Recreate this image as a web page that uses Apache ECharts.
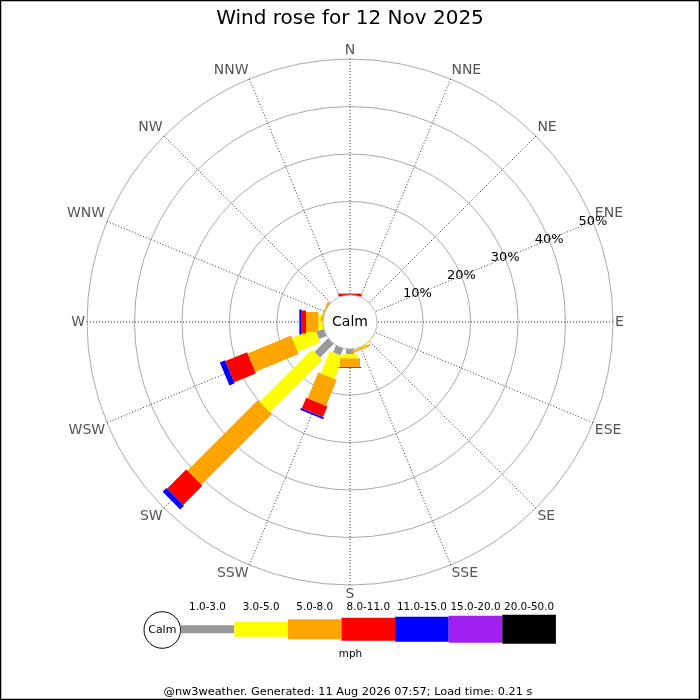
<!DOCTYPE html>
<html>
<head>
<meta charset="utf-8">
<script src="https://cdn.jsdelivr.net/npm/echarts@6/dist/echarts.min.js"></script>
<style>
html,body{margin:0;padding:0;background:#fff;}
#chart{width:700px;height:700px;}
</style>
</head>
<body>
<div id="chart"></div>
<script>
// ---- data ----
const DIRS = ['N','NNE','NE','ENE','E','ESE','SE','SSE','S','SSW','SW','WSW','W','WNW','NW','NNW'];
const SPEED_BINS = ['1.0-3.0','3.0-5.0','5.0-8.0','8.0-11.0','11.0-15.0','15.0-20.0','20.0-50.0'];
const RADIUS_TICKS = [0, 10, 20, 30, 40, 50];
// percentage of time per direction, per speed bin (mph)
const BIN_1_3   = [0,0,0,0,0,0,0,0.3,1.4,1.9,4.4,2.0,0,0,0,0];
const BIN_3_5   = [0,0,0,0,0,0,0.4,0.2,0.9,5.1,15.6,5.2,1.3,0,0,0];
const BIN_5_8   = [0,0,0,0,0,0,0,0.4,1.8,5.9,21.0,9.9,2.6,0.6,0,0];
const BIN_8_11  = [0.6,0,0,0,0,0,0,0,0.2,2.4,5.7,4.9,0.9,0,0,0];
const BIN_11_15 = [0,0,0,0,0,0,0,0,0,0.4,1.1,1.2,0.5,0,0,0];
const BIN_15_20 = [0,0,0,0,0,0,0,0,0,0,0,0,0,0,0,0];
const BIN_20_50 = [0,0,0,0,0,0,0,0,0,0,0,0,0,0,0,0];
const TITLE = 'Wind rose for 12 Nov 2025';
const FOOTER = '@nw3weather. Generated: 11 Aug 2026 07:57; Load time: 0.21 s';

// ---- styles ----
const BIN_COLORS = ['#999999','#ffff00','#ffa500','#ff0000','#0000ff','#a020f0','#000000'];
const BIN_WIDTHS = [8, 15, 20, 23, 25, 27, 29];
const FONT = 'DejaVu Sans';

const BINS = [BIN_1_3, BIN_3_5, BIN_5_8, BIN_8_11, BIN_11_15, BIN_15_20, BIN_20_50];
// angle axis starts at ENE so that the radius labels lie along ENE
const START_OFFSET = 67.5;
function dirToAngle(i){ return ((i*22.5 - START_OFFSET) % 360 + 360) % 360; }

const cum = DIRS.map(() => 0);
const series = BINS.map((vals, b) => {
  const data = [];
  vals.forEach((v, i) => {
    if (v > 0) { data.push([i, cum[i], cum[i] + v]); cum[i] += v; }
  });
  return {
    type: 'custom',
    name: SPEED_BINS[b],
    coordinateSystem: 'polar',
    data: data,
    silent: true,
    renderItem: function (params, api) {
      const ang = dirToAngle(api.value(0));
      const r0 = api.value(1), r1 = api.value(2);
      const p0 = api.coord([r0, ang]);
      const p1 = api.coord([r1, ang]);
      const c0 = api.coord([0, ang]);
      const c1 = api.coord([50, ang]);
      let dx = c1[0] - c0[0], dy = c1[1] - c0[1];
      const len = Math.sqrt(dx*dx + dy*dy) || 1;
      dx /= len; dy /= len;
      const h = BIN_WIDTHS[b] / 2;
      const nx = -dy * h, ny = dx * h;
      return {
        type: 'polygon',
        shape: { points: [
          [p0[0] + nx, p0[1] + ny], [p1[0] + nx, p1[1] + ny],
          [p1[0] - nx, p1[1] - ny], [p0[0] - nx, p0[1] - ny]
        ]},
        style: { fill: BIN_COLORS[b], stroke: null }
      };
    }
  };
});

// ---- legend & decorations ----
const graphics = [];
graphics.push({ type:'rect', shape:{x:0.5,y:0.5,width:699,height:699}, style:{fill:null, stroke:'#000', lineWidth:1.5}, z:100, silent:true });
graphics.push({ type:'circle', shape:{cx:350, cy:322, r:27}, style:{fill:'#fff', stroke:'#bbb', lineWidth:1}, z:50 });
graphics.push({ type:'text', x:350, y:322, style:{text:'Calm', fill:'#000', font:'14px "'+FONT+'"', align:'center', verticalAlign:'middle'}, z:51 });
// legend
const LEG_X0 = 180.7, LEG_W = 53.6, LEG_CY = 629.3;
graphics.push({ type:'circle', shape:{cx:162.3, cy:630, r:18.3}, style:{fill:'#fff', stroke:'#000', lineWidth:1}, z:20 });
graphics.push({ type:'text', x:162.3, y:630, style:{text:'Calm', fill:'#000', font:'11px "'+FONT+'"', align:'center', verticalAlign:'middle'}, z:21 });
SPEED_BINS.forEach((lab, b) => {
  const x = LEG_X0 + b*LEG_W;
  const hgt = BIN_WIDTHS[b];
  graphics.push({ type:'rect', shape:{x:x, y:LEG_CY - hgt/2, width:LEG_W, height:hgt}, style:{fill:BIN_COLORS[b]}, z:20 });
  graphics.push({ type:'text', x:x + LEG_W/2, y:607, style:{text:lab, fill:'#000', font:'10.4px "'+FONT+'"', align:'center', verticalAlign:'middle'}, z:21 });
});
graphics.push({ type:'text', x:350.5, y:654, style:{text:'mph', fill:'#000', font:'10.4px "'+FONT+'"', align:'center', verticalAlign:'middle'}, z:21 });
graphics.push({ type:'text', x:348, y:692, style:{text:FOOTER, fill:'#000', font:'11.3px "'+FONT+'"', align:'center', verticalAlign:'middle'}, z:21 });

const chart = echarts.init(document.getElementById('chart'), null, {renderer:'canvas'});
chart.setOption({
  backgroundColor: '#fff',
  animation: false,
  title: {
    text: TITLE, left: 'center', top: 4,
    textStyle: { fontFamily: FONT, fontSize: 20, fontWeight: 'normal', color: '#000' }
  },
  polar: { center: [350, 322], radius: [25.5, 263] },
  angleAxis: {
    type: 'value', min: 0, max: 360, interval: 22.5,
    startAngle: 90 - START_OFFSET, clockwise: true,
    axisLine: { show: false },
    axisTick: { show: false },
    axisLabel: {
      show: true, margin: 2, color: '#555', fontFamily: FONT, fontSize: 14,
      formatter: function (v) {
        const idx = Math.round(((v + START_OFFSET) % 360) / 22.5) % 16;
        return DIRS[idx];
      }
    },
    splitLine: { show: true, lineStyle: { color: '#333', type: [1, 2], width: 1 } }
  },
  radiusAxis: {
    type: 'value', min: RADIUS_TICKS[0], max: RADIUS_TICKS[RADIUS_TICKS.length-1], interval: 10,
    axisLine: { show: false },
    axisTick: { show: false },
    axisLabel: {
      show: true, margin: 0, align: 'center', verticalAlign: 'middle',
      color: '#000', fontFamily: FONT, fontSize: 13,
      formatter: function (v) { return v === 0 ? '' : v + '%'; }
    },
    splitLine: { show: true, lineStyle: { color: '#aaa', width: 1, type: 'solid' } }
  },
  graphic: graphics,
  series: series
});
</script>
</body>
</html>
